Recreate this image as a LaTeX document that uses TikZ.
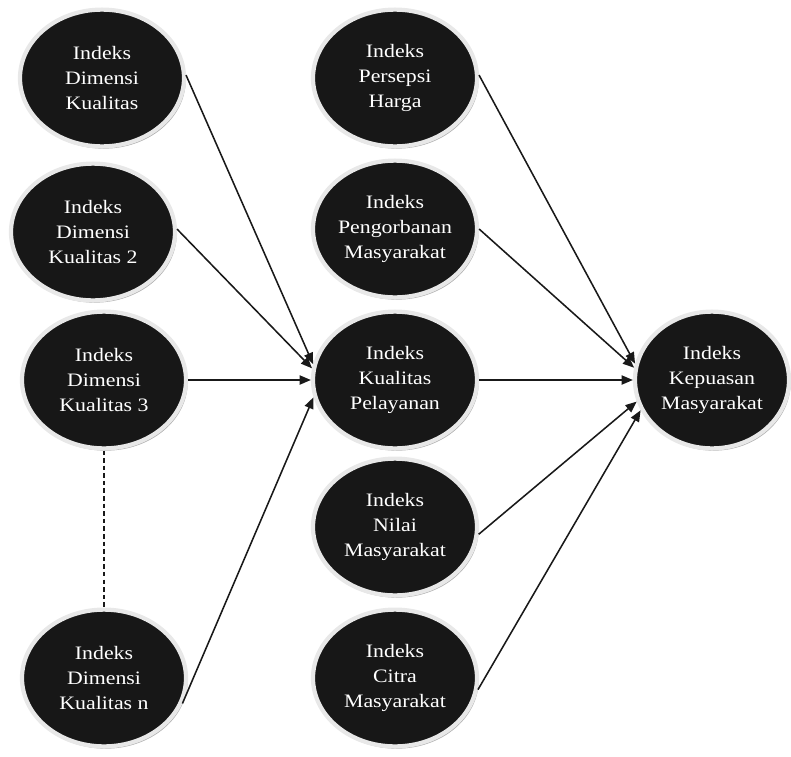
\documentclass[tikz,border=0pt]{standalone}
\usepackage{fontspec}
\setmainfont{Liberation Serif}[FakeStretch=1.15]
\usepackage{tikz}
\usetikzlibrary{
    positioning,
    arrows.meta,
    shapes.geometric,
    shadows
}

\begin{document}
\begin{tikzpicture}[
  font=\fontsize{13.5}{17.8}\selectfont,
  arrow/.style={-{Triangle[length=8pt, width=6.5pt]}, line width=1.1pt, draw=black!90},
  dashline/.style={line width=0.9pt, dash pattern=on 3.2pt off 2.2pt, draw=black!90},
  index/.style={ellipse, draw=black!9, line width=3pt, fill=black!91, text=white,
                minimum width=4.1cm, minimum height=3.42cm, align=center,
                inner xsep=-4mm, inner ysep=0pt,
                drop shadow={shadow xshift=1.2pt, shadow yshift=-1.6pt, fill=black!32, opacity=1}}
]
\useasboundingbox (0,0) rectangle (19.775,-18.9);

% Quality dimension indices
\node[index] (dim1) at (2.55, -1.95) {Indeks\\Dimensi\\Kualitas};
\node[index] (dim2) at (2.325, -5.8) {Indeks\\Dimensi\\Kualitas 2};
\node[index] (dim3) at (2.6, -9.5) {Indeks\\Dimensi\\Kualitas 3};
\node[index] (dimn) at (2.6, -16.95) {Indeks\\Dimensi\\Kualitas n};

% Middle column
\node[index] (harga) at (9.875, -1.95) {Indeks\\Persepsi\\Harga};
\node[index] (korban) at (9.875, -5.725) {Indeks\\Pengorbanan\\Masyarakat};
\node[index] (layan) at (9.875, -9.5) {Indeks\\Kualitas\\Pelayanan};
\node[index] (nilai) at (9.875, -13.175) {Indeks\\Nilai\\Masyarakat};
\node[index] (citra) at (9.875, -16.95) {Indeks\\Citra\\Masyarakat};

% Satisfaction index
\node[index, minimum width=3.85cm] (puas) at (17.8, -9.5) {Indeks\\Kepuasan\\Masyarakat};

% Dimensions to service quality
\draw[arrow] (dim1.2) to (layan.169);
\draw[arrow] (dim2.2) to (layan.172);
\draw[arrow] (dim3.east) to (layan.west);
\draw[arrow] (dimn.-18) to (layan.192);
\draw[dashline] (dim3.south) to (dimn.north);

% Everything to satisfaction
\draw[arrow] (harga.2) to (puas.168);
\draw[arrow] (korban.east) to (puas.171);
\draw[arrow] (layan.east) to (puas.west);
\draw[arrow] (nilai.-5) to (puas.196);
\draw[arrow] (citra.-8) to (puas.203);

\end{tikzpicture}
\end{document}
